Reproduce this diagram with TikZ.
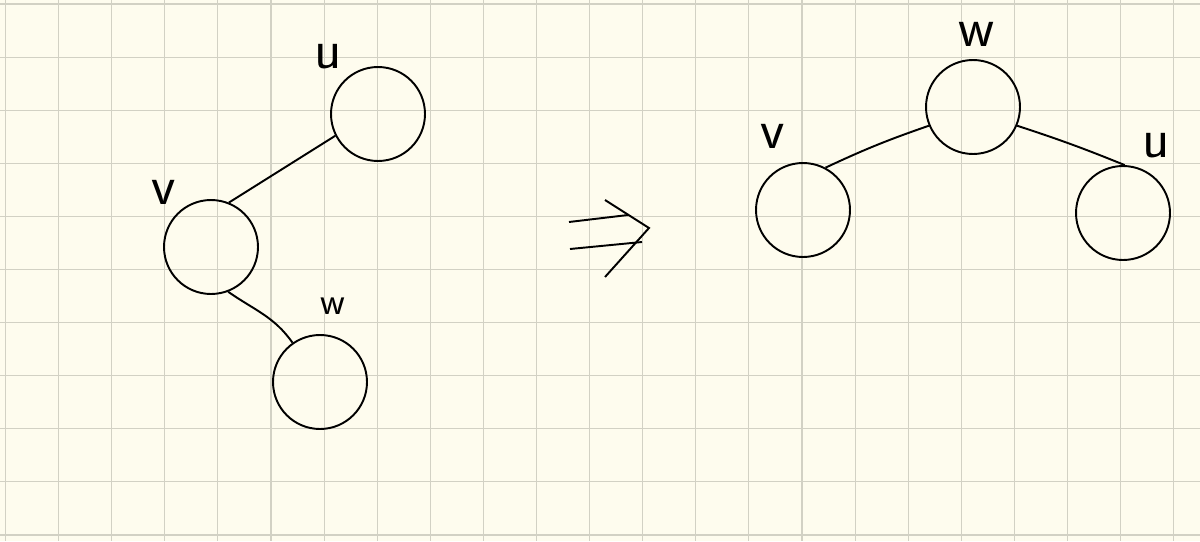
\documentclass[tikz,border=0pt]{standalone}
\definecolor{paper}{RGB}{254,252,238}
\definecolor{gridgray}{RGB}{210,209,196}
\begin{document}
\begin{tikzpicture}[x=0.02cm, y=-0.02cm, line width=1.1pt,
    main node/.style={circle,draw,minimum size=1.88cm,inner sep=0pt},
    name node/.style={inner sep=0pt,font=\sffamily\fontsize{32}{32}\selectfont},
    small name/.style={name node,font=\sffamily\fontsize{22}{22}\selectfont},
    grid line/.style={gridgray,line width=0.6pt}]

            \fill[paper] (0,0) rectangle (1200,541);
            \useasboundingbox (0,0) rectangle (1200,541);
            \foreach \i in {0,...,22} \draw[grid line] ({5.5+53.1*\i},0) -- ({5.5+53.1*\i},541);
            \foreach \j in {0,...,10} \draw[grid line] (0,{4+53.1*\j}) -- (1200,{4+53.1*\j});

            \node[main node] at (378, 114) (u1) {};
            \node[main node] at (211, 247) (v1) {};
            \node[main node] at (320, 382) (w1) {};
            \node[name node] at (328, 57) (lu1) {u};
            \node[name node] at (164, 192) (lv1) {v};
            \node[small name] at (333, 306) (lw1) {w};

            \node[main node] at (973, 107) (w2) {};
            \node[main node] at (803, 210) (v2) {};
            \node[main node] at (1123, 213) (u2) {};
            \node[name node] at (977, 34) (lw2) {w};
            \node[name node] at (773, 136) (lv2) {v};
            \node[name node] at (1156, 146) (lu2) {u};

            \path (v1.68) edge (u1.207);
            \path (v1.291) edge[out=-35, in=125] (w1.125);
            \path (w2.203) edge[bend right=3] (v2.62);
            \path (w2.337) edge[bend left=2] (u2.88);

            \draw (569,222) -- (628,215);
            \draw (570,249) -- (642,242);
            \draw (605,200) -- (649,228) -- (605,277);
        \end{tikzpicture}
\end{document}
